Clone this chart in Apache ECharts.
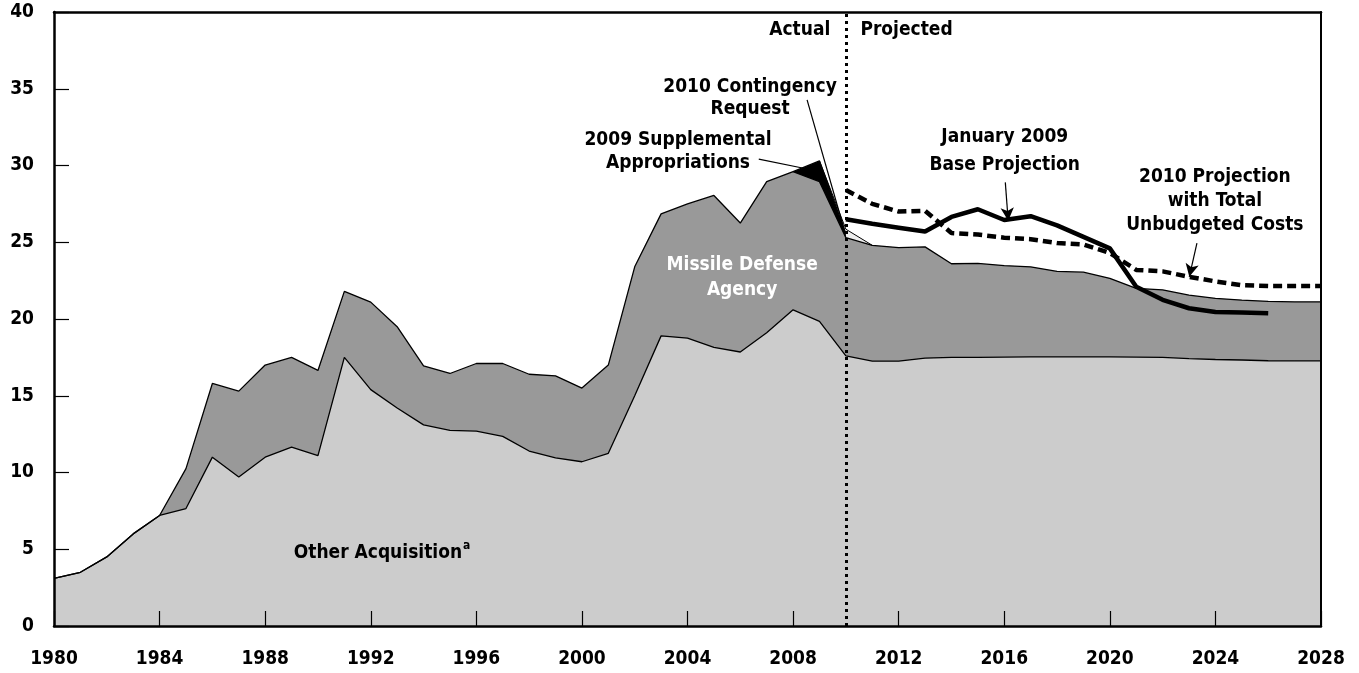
<!DOCTYPE html>
<html>
<head>
<meta charset="utf-8">
<script src="https://cdn.jsdelivr.net/npm/echarts@6/dist/echarts.min.js"></script>
<style>
html, body { margin: 0; padding: 0; background: #fff; }
#main { width: 1359px; height: 673px; }
</style>
</head>
<body>
<div id="main"></div>
<script>
// years 1980 - 2028
var years = [];
for (var y = 1980; y <= 2028; y++) years.push(y);

// Other acquisition (bottom layer), billions
var otherAcq = [3.1, 3.5, 4.5, 6.0, 7.2, 7.65, 11.0, 9.7, 11.0, 11.65,
    11.1, 17.5, 15.4, 14.2, 13.1, 12.75, 12.7, 12.35, 11.4, 10.95,
    10.7, 11.25, 15.0, 18.9, 18.75, 18.15, 17.85, 19.1, 20.6, 19.85,
    17.6, 17.25, 17.25, 17.45, 17.5, 17.5, 17.52, 17.53, 17.53, 17.53,
    17.53, 17.52, 17.5, 17.42, 17.36, 17.33, 17.28, 17.27, 17.27];

// top of Missile Defense Agency layer (total)
var mdaTop = [3.1, 3.5, 4.5, 6.0, 7.2, 10.25, 15.8, 15.3, 17.0, 17.5,
    16.65, 21.8, 21.1, 19.5, 16.95, 16.45, 17.1, 17.1, 16.4, 16.3,
    15.5, 17.0, 23.4, 26.85, 27.5, 28.05, 26.25, 28.95, 29.6, 28.95,
    25.3, 24.8, 24.65, 24.7, 23.6, 23.62, 23.48, 23.4, 23.1, 23.05,
    22.65, 22.0, 21.9, 21.55, 21.35, 21.23, 21.15, 21.12, 21.12];

// 2009 supplemental appropriations (top edge)
var suppYears = [2008, 2009, 2010];
var suppTop = [29.6, 30.3, 25.55];

// 2010 contingency request (top edge)
var contYears = [2009, 2010, 2011];
var contTop = [30.3, 25.85, 24.8];

// January 2009 base projection
var baseYears = [2010, 2011, 2012, 2013, 2014, 2015, 2016, 2017, 2018,
    2019, 2020, 2021, 2022, 2023, 2024, 2025, 2026];
var baseProj = [26.5, 26.2, 25.95, 25.7, 26.65, 27.15, 26.45, 26.7, 26.1,
    25.35, 24.6, 22.1, 21.25, 20.7, 20.45, 20.43, 20.38];

// 2010 projection with total unbudgeted costs
var projYears = [2010, 2011, 2012, 2013, 2014, 2015, 2016, 2017, 2018, 2019,
    2020, 2021, 2022, 2023, 2024, 2025, 2026, 2027, 2028];
var proj2010 = [28.4, 27.5, 27.0, 27.05, 25.6, 25.5, 25.3, 25.2, 24.95, 24.85,
    24.3, 23.2, 23.1, 22.75, 22.45, 22.2, 22.15, 22.15, 22.15];

function pairs(xs, vs) {
    var out = [];
    for (var i = 0; i < vs.length; i++) out.push([xs[i], vs[i]]);
    return out;
}

var FAMILY = '"DejaVu Sans Condensed", "DejaVu Sans", sans-serif';
var FONT = 'bold 19px ' + FAMILY;
var myChart = echarts.init(document.getElementById('main'));

var edge = { color: '#000', width: 1.3 };
var tickLabel = { color: '#000', fontFamily: FAMILY, fontWeight: 'bold', fontSize: 19 };
var option = {
    animation: false,
    backgroundColor: '#fff',
    grid: { left: 54, right: 38, top: 12, bottom: 47 },
    xAxis: [{
        type: 'value', min: 1980, max: 2028, interval: 4, z: 10,
        axisLine: { onZero: false, lineStyle: { color: '#000', width: 2.5 } },
        axisTick: { inside: true, length: 15, lineStyle: { color: '#000', width: 1.2 } },
        axisLabel: Object.assign({ margin: 24, formatter: function (v) { return String(v); } }, tickLabel),
        splitLine: { show: false }
    }, {
        type: 'value', position: 'top', min: 1980, max: 2028, z: 10,
        axisLine: { show: true, onZero: false, lineStyle: { color: '#000', width: 2.5 } },
        axisTick: { show: false }, axisLabel: { show: false }, splitLine: { show: false }
    }],
    yAxis: [{
        type: 'value', min: 0, max: 40, interval: 5, z: 10,
        axisLine: { show: true, onZero: false, lineStyle: { color: '#000', width: 2.5 } },
        axisTick: { show: true, inside: true, length: 15, lineStyle: { color: '#000', width: 1.2 } },
        axisLabel: Object.assign({ margin: 20 }, tickLabel),
        splitLine: { show: false }
    }, {
        type: 'value', position: 'right', min: 0, max: 40, z: 10,
        axisLine: { show: true, onZero: false, lineStyle: { color: '#000', width: 2 } },
        axisTick: { show: false }, axisLabel: { show: false }, splitLine: { show: false }
    }],
    series: [{
        name: '2010 Contingency Request',
        type: 'line', symbol: 'none', data: pairs(contYears, contTop),
        lineStyle: { color: '#000', width: 1 }, areaStyle: { color: '#eeeeee', opacity: 1 }
    }, {
        name: '2009 Supplemental Appropriations',
        type: 'line', symbol: 'none', data: pairs(suppYears, suppTop),
        lineStyle: edge, areaStyle: { color: '#000', opacity: 1 }
    }, {
        name: 'Missile Defense Agency',
        type: 'line', symbol: 'none', data: pairs(years, mdaTop),
        lineStyle: edge, areaStyle: { color: '#999999', opacity: 1 }
    }, {
        name: 'Other Acquisition',
        type: 'line', symbol: 'none', data: pairs(years, otherAcq),
        lineStyle: edge, areaStyle: { color: '#cccccc', opacity: 1 }
    }, {
        name: 'January 2009 Base Projection',
        type: 'line', symbol: 'none', data: pairs(baseYears, baseProj),
        lineStyle: { color: '#000', width: 4.5 }
    }, {
        name: '2010 Projection with Total Unbudgeted Costs',
        type: 'line', symbol: 'none', data: pairs(projYears, proj2010),
        lineStyle: { color: '#000', width: 4.5, type: [9, 5] },
        markLine: {
            silent: true, symbol: 'none', label: { show: false },
            lineStyle: { color: '#000', width: 3, type: [3, 4] },
            data: [{ xAxis: 2010 }]
        }
    }, {
        name: 'leaders',
        type: 'line', symbol: 'none', data: [],
        markLine: {
            silent: true, label: { show: false }, symbolSize: [10, 13],
            lineStyle: { color: '#000', width: 1.2, type: 'solid' },
            data: [
                [{ coord: [2016.04, 28.9], symbol: 'none' }, { coord: [2016.15, 26.4], symbol: 'arrow' }],
                [{ coord: [2023.30, 24.95], symbol: 'none' }, { coord: [2023.01, 22.75], symbol: 'arrow' }],
                [{ coord: [2006.70, 30.41], symbol: 'none' }, { coord: [2008.40, 29.82], symbol: 'none' }],
                [{ coord: [2008.53, 34.28], symbol: 'none' }, { coord: [2009.95, 25.75], symbol: 'none' }]
            ]
        }
    }]
};
myChart.setOption(option);

// text notes, anchored in data coordinates
function px(x, v) { return myChart.convertToPixel({ gridIndex: 0 }, [x, v]); }
function note(text, x, v, align, color, lh) {
    var p = px(x, v);
    return {
        type: 'text', z: 100, x: p[0], y: p[1],
        style: { text: text, font: FONT, fill: color || '#000', align: align || 'center',
                 verticalAlign: 'middle', lineHeight: lh || 23 }
    };
}
var ctx = document.createElement('canvas').getContext('2d');
ctx.font = FONT;
var oaWidth = ctx.measureText('Other Acquisition').width;
var oa = px(1989.08, 4.75);

myChart.setOption({
    graphic: [
        note('Actual', 2009.41, 38.85, 'right'),
        note('Projected', 2010.55, 38.85, 'left'),
        note('2010 Contingency\nRequest', 2006.37, 34.4, 'center', '#000', 22),
        note('2009 Supplemental\nAppropriations', 2003.64, 30.92, 'center', '#000', 23),
        note('Missile Defense\nAgency', 2006.07, 22.7, 'center', '#fff', 25),
        note('January 2009\nBase Projection', 2016.02, 30.95, 'center', '#000', 28),
        note('2010 Projection\nwith Total\nUnbudgeted Costs', 2023.98, 27.69, 'center', '#000', 24),
        note('Other Acquisition', 1989.08, 4.75, 'left'),
        { type: 'text', z: 100, x: oa[0] + oaWidth + 1, y: oa[1] - 7,
          style: { text: 'a', font: 'bold 12px ' + FAMILY, fill: '#000', verticalAlign: 'middle' } }
    ]
});
</script>
</body>
</html>
